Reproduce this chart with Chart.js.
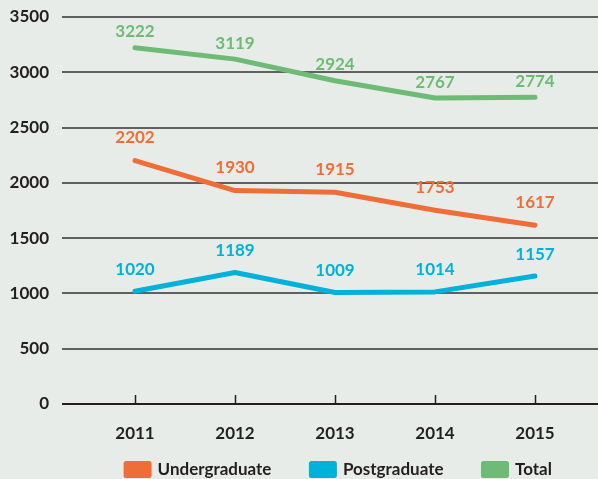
<!DOCTYPE html>
<html>
<head>
<meta charset="utf-8">
<script src="https://cdn.jsdelivr.net/npm/chart.js@4"></script>
<style>
  html, body { margin: 0; padding: 0; background: #e8ece8; overflow: hidden; }
  canvas { display: block; }
</style>
</head>
<body>
<canvas id="chart" width="598" height="519"></canvas>
<script>
const years = [2011, 2012, 2013, 2014, 2015];
const undergraduate = [2202, 1930, 1915, 1753, 1617];
const postgraduate = [1020, 1189, 1009, 1014, 1157];
const total = [3222, 3119, 2924, 2767, 2774];

const FONT = 'Lato, sans-serif';
const DARK = '#231f20';

const toPoints = (vals) => years.map((yr, i) => ({ x: yr, y: vals[i] }));

// value labels above each point, drawn at the point the scales computed
const valueLabels = {
  id: 'valueLabels',
  afterDatasetsDraw(chart) {
    const ctx = chart.ctx;
    ctx.save();
    ctx.font = 'bold 17px ' + FONT;
    ctx.textAlign = 'center';
    ctx.textBaseline = 'middle';
    chart.data.datasets.forEach((ds, di) => {
      const meta = chart.getDatasetMeta(di);
      ctx.fillStyle = ds.borderColor;
      meta.data.forEach((pt, i) => {
        ctx.fillText(String(ds.data[i].y), pt.x, pt.y - ds.labelOffset);
      });
    });
    ctx.restore();
  }
};

// short tick marks pointing up from the x axis line
const innerTicks = {
  id: 'innerTicks',
  afterDraw(chart) {
    const ctx = chart.ctx;
    const xs = chart.scales.x;
    const yb = chart.scales.y.getPixelForValue(0);
    ctx.save();
    ctx.strokeStyle = DARK;
    ctx.lineWidth = 1.5;
    years.forEach((yr) => {
      const px = Math.round(xs.getPixelForValue(yr)) + 0.5;
      ctx.beginPath();
      ctx.moveTo(px, yb);
      ctx.lineTo(px, yb - 9);
      ctx.stroke();
    });
    ctx.restore();
  }
};

// pull the legend row up closer to the year labels, nudge it right
const legendShift = {
  id: 'legendShift',
  afterLayout(chart) {
    const lg = chart.legend;
    if (lg) {
      lg.top -= 31; lg.bottom -= 31;
      lg.left += 9; lg.right += 9;
    }
  }
};

new Chart(document.getElementById('chart'), {
  type: 'line',
  data: {
    datasets: [
      { label: 'Undergraduate', data: toPoints(undergraduate), borderColor: '#ef6d37', backgroundColor: '#ef6d37', labelOffset: 23 },
      { label: 'Postgraduate', data: toPoints(postgraduate), borderColor: '#00b2d9', backgroundColor: '#00b2d9', labelOffset: 22 },
      { label: 'Total', data: toPoints(total), borderColor: '#6dbb74', backgroundColor: '#6dbb74', labelOffset: 16 }
    ]
  },
  options: {
    responsive: false,
    animation: false,
    elements: {
      line: { borderWidth: 5, tension: 0, borderCapStyle: 'round', borderJoinStyle: 'round' },
      point: { radius: 0 }
    },
    layout: { padding: { top: 17, right: 0, left: 0, bottom: 0 } },
    scales: {
      x: {
        type: 'linear',
        min: 2010.27,
        max: 2015.63,
        afterBuildTicks: (scale) => { scale.ticks = years.map((v) => ({ value: v })); },
        afterFit: (scale) => { scale.height = 48; scale.paddingLeft = 0; scale.paddingRight = 0; },
        grid: { display: false, drawTicks: false },
        border: { display: false },
        ticks: {
          padding: 19,
          color: DARK,
          font: { family: FONT, size: 17, weight: 'bold' },
          callback: (v) => String(v)
        }
      },
      y: {
        min: 0,
        max: 3500,
        afterFit: (scale) => { scale.width = 62; scale.paddingTop = 0; scale.paddingBottom = 0; },
        grid: {
          drawTicks: false,
          color: (c) => (c.tick && c.tick.value === 0 ? DARK : '#5f6062'),
          lineWidth: 2
        },
        border: { display: false },
        ticks: {
          stepSize: 500,
          padding: 13,
          color: DARK,
          font: { family: FONT, size: 17, weight: 'bold' },
          callback: (v) => String(v)
        }
      }
    },
    plugins: {
      legend: {
        position: 'bottom',
        fullSize: false,
        labels: {
          boxWidth: 23,
          boxHeight: 12,
          padding: 40,
          color: DARK,
          font: { family: FONT, size: 17, weight: 'bold' }
        }
      },
      tooltip: { enabled: false }
    }
  },
  plugins: [valueLabels, innerTicks, legendShift]
});
</script>
</body>
</html>
